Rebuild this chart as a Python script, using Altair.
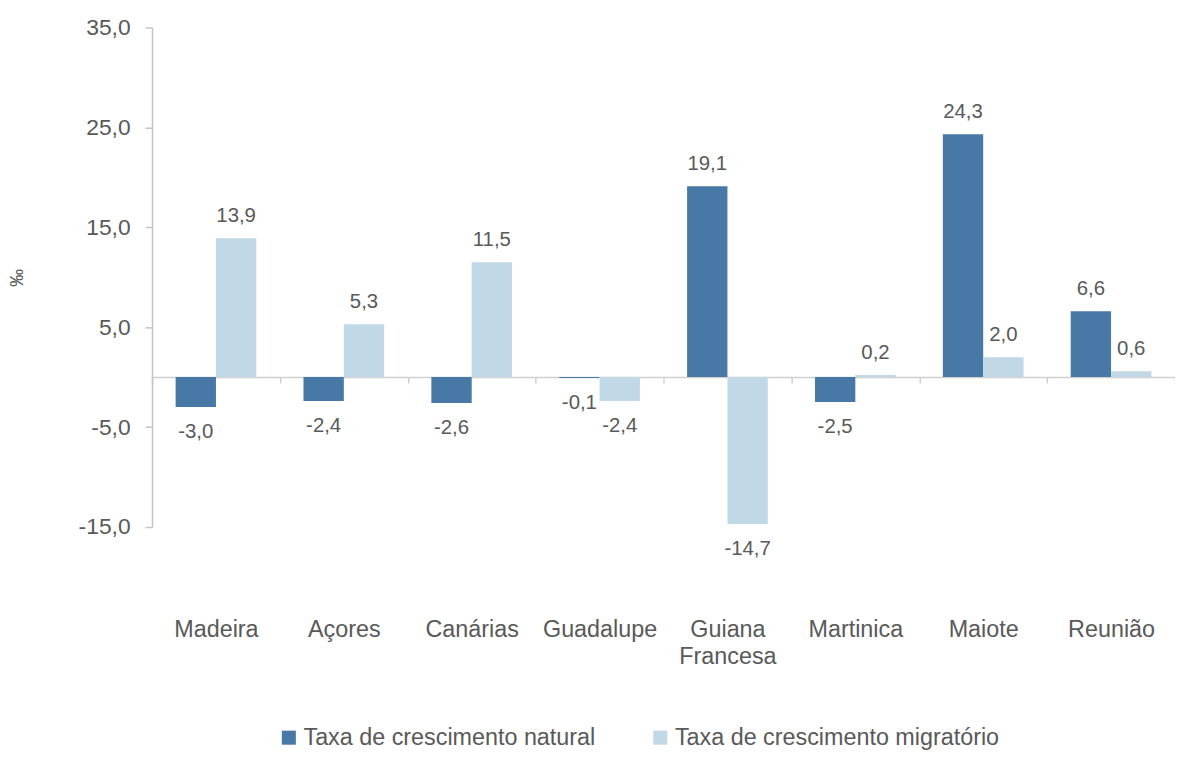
import altair as alt
import pandas as pd

regions = ["Madeira", "Açores", "Canárias", "Guadalupe", "Guiana Francesa",
           "Martinica", "Maiote", "Reunião"]
natural = [-3.0, -2.4, -2.6, -0.1, 19.1, -2.5, 24.3, 6.6]
migratory = [13.9, 5.3, 11.5, -2.4, -14.7, 0.2, 2.0, 0.6]
series_names = ["Taxa de crescimento natural", "Taxa de crescimento migratório"]
y_ticks = [-15, -5, 5, 15, 25, 35]
colors = ["#4878A6", "#C1D9E7"]

rows = []
for r, n, m in zip(regions, natural, migratory):
    rows.append({"regiao": r, "serie": series_names[0], "valor": n})
    rows.append({"regiao": r, "serie": series_names[1], "valor": m})
df = pd.DataFrame(rows)

FONT = "Liberation Sans"
GRAY = "#595959"

x_enc = alt.X(
    "regiao:N", sort=regions,
    scale=alt.Scale(paddingInner=0, paddingOuter=0),
    axis=alt.Axis(
        title=None, orient="bottom", offset=-151,
        domainColor="#d0d0d0", domainWidth=1.5,
        tickColor="#d0d0d0", tickSize=6, tickWidth=1.5, tickBand="extent",
        labelAngle=0, labelFontSize=23.5, labelColor=GRAY, labelFont=FONT,
        labelPadding=236, labelBaseline="top", labelLineHeight=27,
        labelExpr="datum.label == 'Guiana Francesa' ? ['Guiana', 'Francesa'] : datum.label",
    ),
)
xo_enc = alt.XOffset("serie:N", sort=series_names,
                     scale=alt.Scale(paddingInner=0, paddingOuter=0.585))
y_enc = alt.Y(
    "valor:Q",
    scale=alt.Scale(domain=[-15, 35], nice=False, zero=False),
    axis=alt.Axis(
        values=y_ticks, grid=False,
        domainColor="#c4c4c4", domainWidth=1.5,
        tickColor="#c4c4c4", tickSize=7, tickWidth=1.5,
        labelFontSize=23, labelColor=GRAY, labelFont=FONT, labelPadding=15,
        labelExpr="replace(replace(format(datum.value, '.1f'), '.', ','), '\u2212', '-')",
        title="‰", titleFontSize=18, titleFontWeight="normal", titleColor=GRAY,
        titleFont=FONT, titleX=-135, titleY=251.5, titleAlign="center",
        titleBaseline="middle", titleAngle=-90,
    ),
)
color_enc = alt.Color(
    "serie:N", sort=series_names,
    scale=alt.Scale(domain=series_names, range=colors),
    legend=alt.Legend(
        title=None, orient="none", legendX=126, legendY=703,
        direction="horizontal", symbolType="square", symbolSize=200,
        symbolStrokeWidth=0, labelFontSize=23.5, labelColor=GRAY, labelFont=FONT,
        columnPadding=53, labelOffset=3, labelLimit=500,
    ),
)

base = alt.Chart(df).encode(x=x_enc, xOffset=xo_enc, y=y_enc)

bars = base.mark_bar().encode(color=color_enc)

label_expr = "replace(replace(format(datum.valor, '.1f'), '.', ','), '\u2212', '-')"
pos = base.transform_filter("datum.valor >= 0").transform_calculate(
    lbl=label_expr
).mark_text(dy=-22, baseline="middle", fontSize=20.5, color=GRAY, font=FONT).encode(
    text="lbl:N"
)
neg = base.transform_filter("datum.valor < 0").transform_calculate(
    lbl=label_expr
).mark_text(dy=25, baseline="middle", fontSize=20.5, color=GRAY, font=FONT).encode(
    text="lbl:N"
)

chart = alt.layer(bars, pos, neg).properties(
    width=1030, height=503,
    padding={"left": 145, "top": 17, "right": 0, "bottom": 225},
    autosize=alt.AutoSizeParams(type="none"),
).configure_view(stroke=None)

chart.save("out.html", embed_options={"renderer": "svg", "actions": False})
